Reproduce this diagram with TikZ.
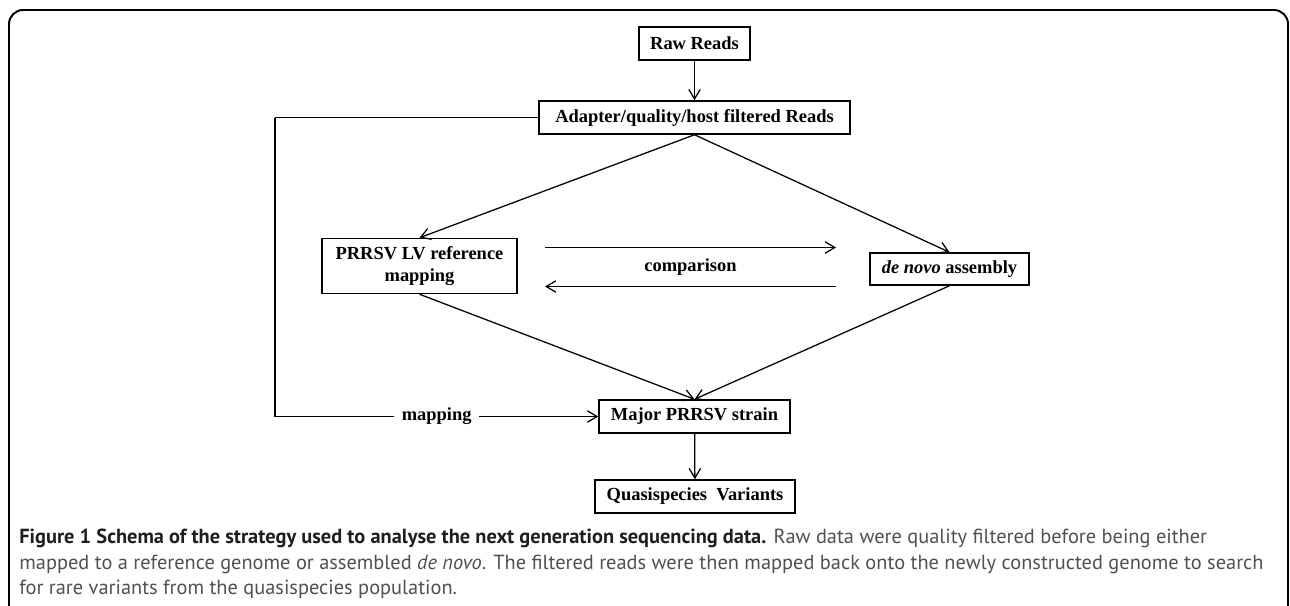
\documentclass[tikz,border=0pt]{standalone}
\usepackage{fontspec}
\setmainfont{Liberation Serif}
\newfontfamily\captionfont{PT Sans}
\usetikzlibrary{arrows.meta}

\definecolor{captiontext}{RGB}{80,80,80}
\definecolor{captionhead}{RGB}{30,30,30}

\tikzset{
  stage/.style={draw, line width=0.85pt, inner sep=0pt, align=center,
    font=\fontsize{10.5}{12.6}\selectfont\bfseries},
  flow/.style={line width=0.72pt, -{Straight Barb[length=5.5pt,width=6.5pt]}},
  link/.style={line width=0.72pt},
}

\begin{document}
\begin{tikzpicture}[x=0.02cm, y=-0.02cm]
  \useasboundingbox (0,0) rectangle (1290,605);
  % outer frame, cut by the page at right and bottom
  \draw[line width=1.1pt, rounded corners=8pt] (9,610) -- (9,10) -- (1288,10) -- (1288,610);

  \node[stage, minimum width=2.22cm, minimum height=0.66cm] (raw) at (694.5,43.5) {Raw Reads};
  \node[stage, minimum width=6.22cm, minimum height=0.66cm] (filt) at (694.5,117.5) {Adapter/quality/host filtered Reads};
  \node[stage, minimum width=3.90cm, minimum height=1.10cm] (refmap) at (419.5,266) {PRRSV LV reference\\mapping};
  \node[stage, minimum width=3.18cm, minimum height=0.64cm] (denovo) at (949.5,269) {\textit{de novo} assembly};
  \node[stage, minimum width=3.82cm, minimum height=0.66cm] (major) at (694.5,416.5) {Major PRRSV strain};
  \node[stage, minimum width=4.00cm, minimum height=0.66cm] (quasi) at (695,496.5) {Quasispecies\ \ Variants};

  %\draw[very thin,color=gray] (0,0) grid[step=50] (1290,605);
  \draw[flow] (raw) -- (filt);
  \draw[flow] (filt.south) -- (refmap.north);
  \draw[flow] (filt.south) -- (denovo.north);
  \draw[flow] (refmap.south) -- (major.north);
  \draw[flow] (denovo.south) -- (major.north);
  \draw[flow] (major) -- (quasi);

  % comparison between the two routes
  \node[font=\fontsize{10.5}{12.6}\selectfont\bfseries] (cmp) at (690.5,267) {comparison};
  \coordinate (cmpL1) at (545,247.5);
  \coordinate (cmpR1) at (836,247.5);
  \coordinate (cmpL2) at (545,286.5);
  \coordinate (cmpR2) at (836,286.5);
  \draw[flow] (cmpL1) -- (cmpR1);
  \draw[flow] (cmpR2) -- (cmpL2);

  % filtered reads mapped back onto the new genome
  \coordinate (turn) at (275,117.5);
  \draw[link] (filt.west) -- (turn);
  \draw[flow] (turn) |- node[pos=0.75, fill=white, inner xsep=4.5pt, inner ysep=1pt,
    font=\fontsize{10.5}{12.6}\selectfont\bfseries] (maplabel) {mapping} (major.west);

  \node[anchor=west, align=left, inner sep=0pt, text=captiontext,
    font=\captionfont\fontsize{11.6}{14.4}\selectfont] (caption) at (19,564)
    {{\color{captionhead}\bfseries Figure 1 Schema of the strategy used to analyse the next generation sequencing data.} Raw data were quality filtered before being either\\
     mapped to a reference genome or assembled \textit{de novo}. The filtered reads were then mapped back onto the newly constructed genome to search\\
     for rare variants from the quasispecies population.};
\end{tikzpicture}
\end{document}
